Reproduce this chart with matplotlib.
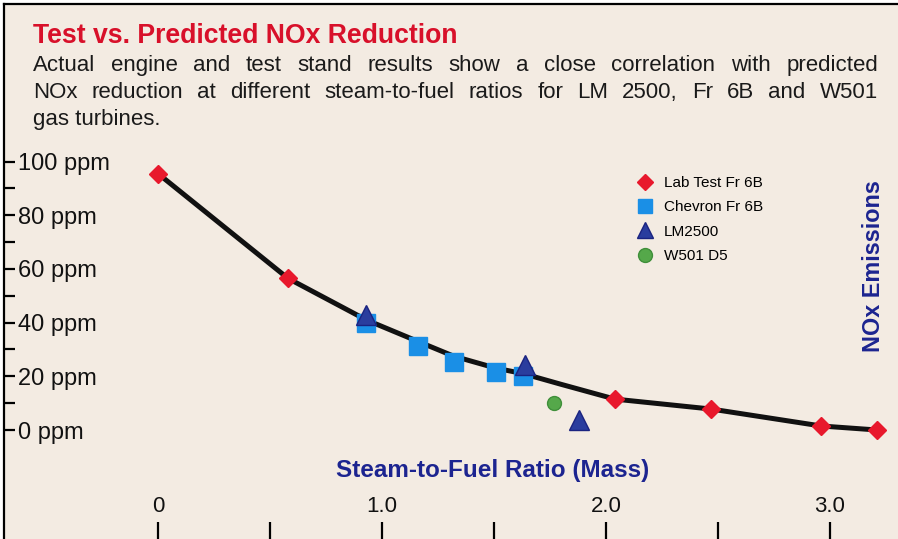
import matplotlib.pyplot as plt
from matplotlib.lines import Line2D
from matplotlib.ticker import FixedLocator

# data
pred_x = [0.0, 0.58, 0.93, 1.16, 1.32, 1.51, 1.63, 1.80, 2.04, 2.47, 2.96, 3.21]
pred_y = [95.5, 56.5, 41.0, 33.0, 27.5, 23.0, 21.0, 17.0, 11.5, 7.8, 1.5, 0.0]

lab_x = [0.0, 0.58, 2.04, 2.47, 2.96, 3.21]
lab_y = [95.5, 56.5, 11.5, 7.8, 1.5, 0.0]

chev_x = [0.93, 1.16, 1.32, 1.51, 1.63]
chev_y = [40.0, 31.3, 25.5, 21.5, 20.0]

lm_x = [0.93, 1.64, 1.88]
lm_y = [42.8, 24.2, 3.7]

w501_x = [1.77]
w501_y = [10.0]

y_ticks = [0, 20, 40, 60, 80, 100]
y_minor = [10, 30, 50, 70, 90]
y_labels = ["0 ppm", "20 ppm", "40 ppm", "60 ppm", "80 ppm", "100 ppm"]
x_ticks = [0, 1, 2, 3]
x_minor = [0.5, 1.5, 2.5]
x_labels = ["0", "1.0", "2.0", "3.0"]

series_names = ["Lab Test Fr 6B", "Chevron Fr 6B", "LM2500", "W501 D5"]

bg = "#f3ebe2"
navy = "#1c2490"
red = "#e8182c"
blue = "#1a8fe6"
tri = "#2a3d9e"
green = "#55a84a"
sans = ["Liberation Sans", "DejaVu Sans"]

W, H = 898, 539
fig = plt.figure(figsize=(W / 100, H / 100), dpi=100)
fig.patch.set_facecolor("white")
renderer = fig.canvas.get_renderer()

# axes fills the framed area; left spine doubles as the frame
left, top = 4, 4
ax = fig.add_axes([left / W, 0, 1 - left / W, 1 - top / H])
ax.set_facecolor(bg)

# pixel mapping: x=0 -> 158px, 1 unit = 224px; y=0 -> 430px, 20 ppm = 53.7px
x0px, xs = 158, 224.0
y0px, ys = 430, 53.7 / 20
ax.set_xlim((left - x0px) / xs, (W - x0px) / xs)
ax.set_ylim((y0px - H) / ys, (y0px - top) / ys)

ax.plot(pred_x, pred_y, color="#111111", lw=3.6, solid_capstyle="round", zorder=2)

ax.plot(lab_x, lab_y, "D", ls="none", color=red, ms=9, mec=red, zorder=4)
ax.plot(chev_x, chev_y, "s", ls="none", color=blue, ms=13, mec=blue, zorder=3)
ax.plot(lm_x, lm_y, "^", ls="none", color=tri, ms=14, mec="#1a2380", zorder=5)
ax.plot(w501_x, w501_y, "o", ls="none", color=green, ms=10, mec="#3f8f3a", zorder=3)

ax.spines["right"].set_visible(False)
ax.spines["bottom"].set_visible(False)
ax.spines["left"].set_linewidth(1.6)
ax.spines["top"].set_linewidth(1.6)

ax.yaxis.set_major_locator(FixedLocator(y_ticks))
ax.set_yticklabels(y_labels)
ax.yaxis.set_minor_locator(FixedLocator(y_minor))
ax.tick_params(axis="y", which="both", direction="in", length=8, width=1.6,
               pad=-10, labelsize=17, labelcolor="#111111")
for lab in ax.get_yticklabels():
    lab.set_horizontalalignment("left")
    lab.set_fontfamily(sans)

ax.xaxis.set_major_locator(FixedLocator(x_ticks))
ax.set_xticklabels(x_labels)
ax.xaxis.set_minor_locator(FixedLocator(x_minor))
ax.tick_params(axis="x", which="both", direction="in", length=12, width=1.6,
               pad=-31, labelsize=16, labelcolor="#111111")
for lab in ax.get_xticklabels():
    lab.set_fontfamily(sans)


def fit_width(t, target):
    w = t.get_window_extent(renderer).width
    t.set_fontsize(t.get_fontsize() * target / w)
    return t


def justify(line, x_start, x_end, y, **kw):
    # spread words so the line runs from x_start to x_end (justified text)
    words = line.split()
    texts = [fig.text(x_start / W, 1 - y / H, w, ha="left", va="baseline", **kw)
             for w in words]
    widths = [t.get_window_extent(renderer).width for t in texts]
    gap = (x_end - x_start - sum(widths)) / (len(words) - 1)
    x = x_start
    for t, w in zip(texts, widths):
        t.set_x(x / W)
        x += w + gap


xl = fig.text(493 / W, 1 - 470 / H, "Steam-to-Fuel Ratio (Mass)", color=navy,
              fontsize=14, fontweight="bold", family=sans, ha="center", va="center")
fit_width(xl, 313)
yl = fig.text(873 / W, 1 - 266 / H, "NOx Emissions", color=navy, rotation=90,
              fontsize=14, fontweight="bold", family=sans, ha="center", va="center")
yl.set_fontsize(14 * 172 / yl.get_window_extent(renderer).height)

title = fig.text(33 / W, 1 - 36 / H, "Test vs. Predicted NOx Reduction", color="#d8102a",
                 fontsize=17, fontweight="bold", family=sans, ha="left", va="center")
fit_width(title, 426)

body = ["Actual engine and test stand results show a close correlation with predicted",
        "NOx reduction at different steam-to-fuel ratios for LM 2500, Fr 6B and W501",
        "gas turbines."]
style = dict(color="#1a1a1a", fontsize=16, family=sans)
justify(body[0], 33, 878, 71, **style)
justify(body[1], 33, 878, 98, **style)
fig.text(33 / W, 1 - 125 / H, body[2], ha="left", va="baseline", **style)

handles = [Line2D([], [], marker="D", ls="none", color=red, mec=red, ms=8),
           Line2D([], [], marker="s", ls="none", color=blue, mec=blue, ms=10),
           Line2D([], [], marker="^", ls="none", color=tri, mec="#1a2380", ms=11),
           Line2D([], [], marker="o", ls="none", color=green, mec="#3f8f3a", ms=10)]
ax.legend(handles, series_names,
          loc="upper left", bbox_to_anchor=(637 / W, 1 - 176 / H),
          bbox_transform=fig.transFigure, frameon=False,
          prop={"family": sans, "size": 11}, handlelength=1.0, handletextpad=0.75,
          labelspacing=0.68, borderpad=0, borderaxespad=0)

fig.savefig("out.png", dpi=100, facecolor=fig.get_facecolor())
